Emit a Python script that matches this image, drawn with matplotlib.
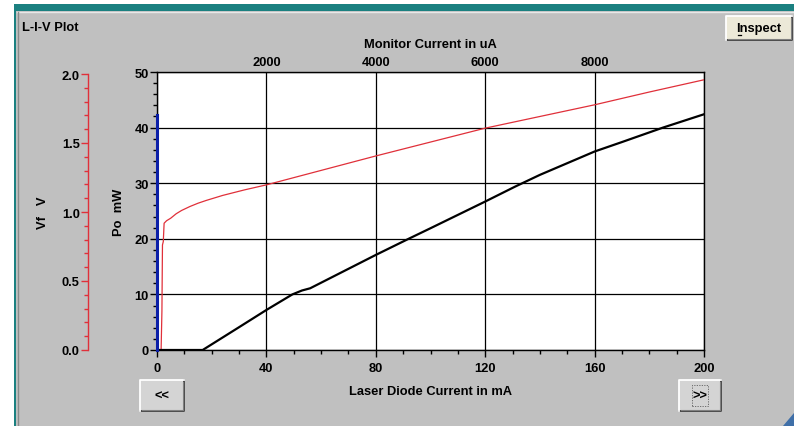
import matplotlib
matplotlib.use("Agg")
import matplotlib.pyplot as plt
from matplotlib.patches import Rectangle, Polygon
from matplotlib.lines import Line2D
from matplotlib.ticker import MultipleLocator, FixedLocator
from matplotlib import font_manager

names = {f.name for f in font_manager.fontManager.ttflist}
narrow = 'Liberation Sans Narrow' in names
plt.rcParams['font.family'] = ['Liberation Sans Narrow', 'Liberation Sans', 'DejaVu Sans'] if narrow \
    else ['Liberation Sans', 'DejaVu Sans']
plt.rcParams['font.weight'] = 'bold'
FS = 10.5 if narrow else 9.3

# Laser diode drive current (mA) and measured optical power (mW)
po_current = [0, 16.7, 30, 40, 49.5, 53, 56, 70, 80, 92, 100, 110, 120, 131, 140, 150, 160, 170, 185, 200]
po_power = [0, 0, 4.1, 7.2, 10.0, 10.7, 11.1, 14.6, 17.1, 20.0, 21.9, 24.3, 26.7, 29.4, 31.5, 33.6,
            35.7, 37.4, 40.0, 42.4]

# Forward voltage (V) versus drive current (mA)
vf_current = [0, 1.5, 1.8, 2.0, 2.3, 2.6, 3.5, 5, 7, 9, 12, 15, 18, 24, 32, 40, 60, 80, 100, 120,
              140, 160, 180, 200]
vf_voltage = [0.0, 0.0, 0.28, 0.756, 0.78, 0.912, 0.93, 0.948, 0.98, 1.004, 1.032, 1.056, 1.076,
              1.112, 1.152, 1.188, 1.292, 1.396, 1.496, 1.596, 1.68, 1.764, 1.856, 1.944]

# Monitor photodiode trace (drawn against the laser current scale)
mon_current = [0, 0]
mon_power = [0, 42.2]

bottom_ticks = [0, 40, 80, 120, 160, 200]
top_ticks = [2000, 4000, 6000, 8000]
po_ticks = [0, 10, 20, 30, 40, 50]
vf_ticks = [0.0, 0.5, 1.0, 1.5, 2.0]

W, H = 794, 427
GREY = '#c0c0c0'
fig = plt.figure(figsize=(W / 100, H / 100), dpi=100, facecolor='white')


def fx(x):
    return x / W


def fy(y):
    return 1 - y / H


def frect(x0, y0, x1, y1, **kw):
    fig.patches.append(Rectangle((fx(x0), fy(y1)), fx(x1 - x0), (y1 - y0) / H,
                                 transform=fig.transFigure, **kw))


def fline(xs, ys, **kw):
    fig.add_artist(Line2D([fx(v) for v in xs], [fy(v) for v in ys],
                          transform=fig.transFigure, **kw))


# window frame
frect(14, 5, W, H, facecolor=GREY, edgecolor='none', zorder=-10)
frect(14, 5, W, 12, facecolor='#1b8080', edgecolor='none', zorder=-9)
frect(14, 5, 16, H, facecolor='#1b8080', edgecolor='none', zorder=-9)
fline([17, W], [13, 13], color='#e8e8e8', lw=1.0, zorder=-8)
fline([17.5, 17.5], [13, H], color='#8a8a8a', lw=1.0, zorder=-8)
fig.patches.append(Polygon([(fx(794), fy(414)), (fx(794), fy(427)), (fx(783), fy(427))],
                           closed=True, transform=fig.transFigure, facecolor='#3f6fa8',
                           edgecolor='none', zorder=-8))

fig.text(fx(22), fy(28), 'L-I-V Plot', fontsize=FS, fontweight='bold', ha='left', va='center')

# main plot area
L, R, T, B = 157, 704, 73, 351
ax = fig.add_axes([fx(L), fy(B), fx(R - L), (B - T) / H])
ax.set_facecolor('white')
ax.set_xlim(0, 200)
ax.set_ylim(0, 50)
for s in ax.spines.values():
    s.set_color('black')
    s.set_linewidth(1.0)
ax.xaxis.set_major_locator(FixedLocator(bottom_ticks))
ax.xaxis.set_minor_locator(MultipleLocator(10))
ax.yaxis.set_major_locator(FixedLocator(po_ticks))
ax.yaxis.set_minor_locator(MultipleLocator(2))
ax.tick_params(axis='both', which='major', direction='out', length=5, width=1.0,
               labelsize=FS, pad=3.5, colors='black')
ax.tick_params(axis='both', which='minor', direction='out', length=3, width=1.0)
ax.tick_params(axis='y', which='major', pad=1)
for lab in ax.get_xticklabels() + ax.get_yticklabels():
    lab.set_fontweight('bold')
ax.grid(True, which='major', color='black', lw=0.9)
ax.set_axisbelow(True)

ax.plot(mon_current, mon_power, color='#0b1fa8', lw=2.2, zorder=4, clip_on=False)
ax.plot(vf_current, [v * 25 for v in vf_voltage], color='#e0303a', lw=0.9, zorder=3)
ax.plot(po_current, po_power, color='black', lw=1.6, zorder=3)

ax.set_xlabel('Laser Diode Current in mA', fontsize=FS, fontweight='bold', labelpad=8)
ax.set_ylabel('Po  mW', fontsize=FS, fontweight='bold', labelpad=7)

# monitor current scale on top (uA), 50 uA per mA
top = ax.secondary_xaxis('top', functions=(lambda x: x * 50, lambda x: x / 50))
top.xaxis.set_major_locator(FixedLocator(top_ticks))
top.tick_params(axis='x', which='major', length=0, labelsize=FS, pad=3)
top.tick_params(axis='x', which='minor', length=0)
for lab in top.get_xticklabels():
    lab.set_fontweight('bold')
top.spines['top'].set_visible(False)
top.set_xlabel('Monitor Current in uA', fontsize=FS, fontweight='bold', labelpad=6)

# forward-voltage scale
vax = fig.add_axes([fx(88), fy(B), 0.0001, (B - 75) / H])
vax.patch.set_visible(False)
for k in ('top', 'right', 'bottom'):
    vax.spines[k].set_visible(False)
vax.spines['left'].set_color('#e0303a')
vax.spines['left'].set_linewidth(1.0)
vax.set_ylim(0, 2.0)
vax.set_xticks([])
vax.yaxis.set_major_locator(FixedLocator(vf_ticks))
vax.yaxis.set_minor_locator(MultipleLocator(0.1))
vax.tick_params(axis='y', which='major', direction='out', length=5, width=1.0, color='#e0303a',
                labelcolor='black', labelsize=FS, pad=1)
vax.tick_params(axis='y', which='minor', direction='out', length=3, width=1.0, color='#e0303a')
vax.set_yticklabels([f'{v:.1f}' for v in vf_ticks], fontweight='bold')
fig.text(fx(43), fy(213), 'Vf   V', rotation=90, fontsize=FS, fontweight='bold',
         ha='center', va='center')


def button(x0, y0, x1, y1, label, face, underline=False, focus=False):
    frect(x0, y0, x1, y1, facecolor=face, edgecolor='none', zorder=2)
    fline([x0, x1, x1], [y1, y1, y0], color='#404040', lw=1.3, zorder=3)
    fline([x0, x0, x1], [y1, y0, y0], color='white', lw=1.3, zorder=3)
    fline([x0 + 1.5, x1 - 1.5, x1 - 1.5], [y1 - 1.5, y1 - 1.5, y0 + 1.5], color='#808080', lw=0.8, zorder=3)
    cx, cy = (x0 + x1) / 2, (y0 + y1) / 2
    t = fig.text(fx(cx), fy(cy), label, fontsize=FS, fontweight='bold', ha='center', va='center', zorder=4)
    if underline:
        fig.canvas.draw()
        bb = t.get_window_extent()
        x_start = bb.x0 + 1.5
        fline([x_start, x_start + 3], [cy + 7, cy + 7], color='black', lw=0.9, zorder=4)
    if focus:
        frect(x0 + 13, y0 + 5, x1 - 13, y1 - 5, facecolor='none', edgecolor='#606060',
              lw=0.6, linestyle=(0, (1.5, 1.5)), zorder=4)


button(726, 17, 792, 41, 'Inspect', '#ece9d8', underline=True)
button(140, 381, 184, 412, '<<', '#d4d4d4')
button(679, 381, 721, 412, '>>', '#d4d4d4', focus=True)

fig.savefig('out.png', dpi=100, facecolor=fig.get_facecolor())
